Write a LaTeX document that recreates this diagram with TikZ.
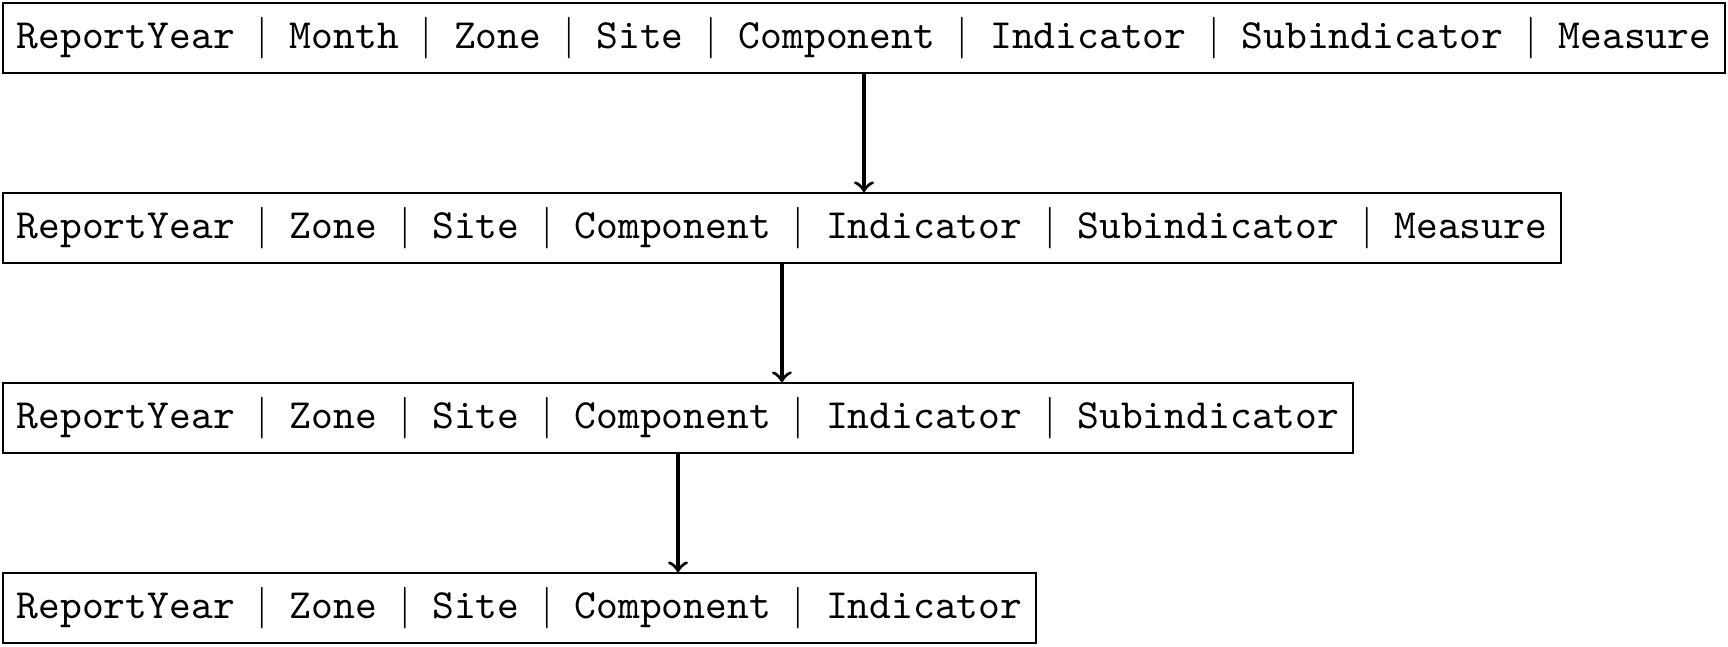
\documentclass[tikz,border=0pt]{standalone}
\usetikzlibrary{positioning}
\begin{document}
\begin{tikzpicture}[
  rowbox/.style={draw, font=\ttfamily, anchor=north west, inner ysep=3.45pt},
  flow/.style={->, thick}
]
\newcommand{\sepbar}{ $|$ }
\node[rowbox] (a) at (0,0) {ReportYear\sepbar Month\sepbar Zone\sepbar Site\sepbar Component\sepbar Indicator\sepbar Subindicator\sepbar Measure};
\node[rowbox] (b) at ([yshift=-1cm]a.south west) {ReportYear\sepbar Zone\sepbar Site\sepbar Component\sepbar Indicator\sepbar Subindicator\sepbar Measure};
\node[rowbox] (c) at ([yshift=-1cm]b.south west) {ReportYear\sepbar Zone\sepbar Site\sepbar Component\sepbar Indicator\sepbar Subindicator};
\node[rowbox] (d) at ([yshift=-1cm]c.south west) {ReportYear\sepbar Zone\sepbar Site\sepbar Component\sepbar Indicator};
\draw[flow] (a.south) -- (a.south |- b.north);
\draw[flow] (b.south) -- (b.south |- c.north);
\draw[flow] (c.south) -- (c.south |- d.north);
\useasboundingbox ([shift={(-0.5pt,0.5pt)}]a.north west) rectangle ([shift={(0.5pt,-0.5pt)}]d.south -| a.east);
\end{tikzpicture}
\end{document}
